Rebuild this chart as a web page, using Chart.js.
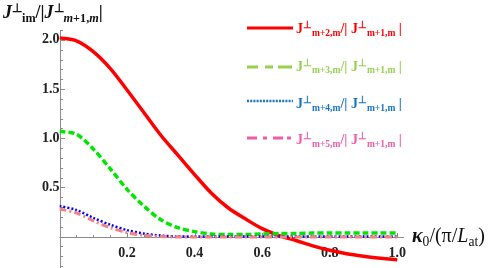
<!DOCTYPE html>
<html><head><meta charset="utf-8">
<script src="https://cdn.jsdelivr.net/npm/chart.js@4"></script>
<style>
html,body{margin:0;padding:0;background:#fff;}
#wrap{position:relative;width:490px;height:268px;overflow:hidden;}
#c{position:absolute;left:0;top:0;}
.t{position:absolute;font-family:'Liberation Serif','Times New Roman',serif;font-weight:bold;white-space:nowrap;line-height:1;}
.sp{font-size:68%;position:relative;top:-0.5em;}
.sb{font-size:68%;position:relative;top:0.3em;}
.sw{position:absolute;}
</style></head><body>
<div id="wrap">
<canvas id="c" width="490" height="268"></canvas>
<div class="t" id="ytitle" style="left:3px;top:3px;font-size:18px;color:#111;"><i>J</i><span class="sp">⊥</span><span class="sb">im</span>/|<i>J</i><span class="sp">⊥</span><span class="sb"><i>m</i>+1,<i>m</i></span>|</div>
<div class="t" id="xtitle" style="left:412px;top:225px;font-size:20px;color:#111;font-weight:normal;"><b><i>κ</i></b><span class="sb">0</span>/(π/<i>L</i><span class="sb">at</span>)</div>
<div id="legend"></div>
</div>
<script>
// ---- data ----
const kappa = [0,0.05,0.1,0.15,0.2,0.25,0.3,0.35,0.4,0.45,0.5,0.55,0.6,0.65,0.7,0.75,0.8,0.85,0.9,0.95,1.0];
const ratioM2 = [2.02,1.99,1.88,1.71,1.49,1.26,1.03,0.83,0.63,0.44,0.29,0.18,0.08,0.01,-0.04,-0.095,-0.14,-0.175,-0.2,-0.22,-0.237];
const ratioM3 = [1.07,1.04,0.89,0.69,0.48,0.31,0.17,0.09,0.05,0.025,0.02,0.02,0.025,0.03,0.03,0.035,0.035,0.035,0.035,0.035,0.035];
const ratioM4 = [0.31,0.27,0.19,0.12,0.065,0.03,0.01,0.0,0,0,0,0,0,0,0,0,0,0,0,0,0];
const ratioM5 = [0.28,0.24,0.16,0.09,0.04,0.012,0.0,-0.005,-0.005,-0.005,-0.005,-0.005,-0.005,-0.005,-0.005,-0.005,-0.005,-0.005,-0.005,-0.005,-0.005];
const yTickValues = [0.5,1.0,1.5,2.0];
const xTickValues = [0.2,0.4,0.6,0.8,1.0];
const legendSubs = ['m+2,m','m+3,m','m+4,m','m+5,m'];

// ---- styles ----
const lineColors = ['#ff0000','#00e600','#0000ff','#f28282'];
const legendColors = ['#ff0000','#96d04e','#1a74c6','#f05aa8'];
const dashes = [[],[6,3],[2,2],[7,3,2,3]];
const widths = [3.5,3.5,2.5,3];
const series = [ratioM2, ratioM3, ratioM4, ratioM5];

// legend (HTML text + svg swatches)
const legendRowY = [27.5, 66.5, 101, 137.5];
const legendTextTop = [22, 59.5, 97, 133];
const legend = document.getElementById('legend');
legendSubs.forEach((s,i)=>{
  const svg = document.createElementNS('http://www.w3.org/2000/svg','svg');
  svg.setAttribute('class','sw'); svg.setAttribute('width','48'); svg.setAttribute('height','8');
  svg.style.left='246px'; svg.style.top=(legendRowY[i]-4)+'px';
  const ln = document.createElementNS('http://www.w3.org/2000/svg','line');
  ln.setAttribute('x1','1'); ln.setAttribute('x2','47'); ln.setAttribute('y1','4'); ln.setAttribute('y2','4');
  ln.setAttribute('stroke',legendColors[i]); ln.setAttribute('stroke-width', i===2?'2.5':'3');
  const ld = [[],[11,7,8,5,14],[2,1.2],[10,6,4,6,10,4,4]][i];
  if(ld.length) ln.setAttribute('stroke-dasharray', ld.join(' '));
  svg.appendChild(ln); legend.appendChild(svg);
  const d = document.createElement('div');
  d.className='t'; d.style.left='296px'; d.style.top=legendTextTop[i]+'px';
  d.style.fontSize='14px'; d.style.color=legendColors[i];
  d.innerHTML = 'J<span class="sp">⊥</span><span class="sb">'+s+'</span>/| J<span class="sp">⊥</span><span class="sb">m+1,m</span> |';
  legend.appendChild(d);
});

const axesPlugin = {
  id:'mathAxes',
  beforeDatasetsDraw(chart){
    const {ctx, scales:{x,y}} = chart;
    const x0 = Math.round(x.getPixelForValue(0))+0.5, y0 = Math.round(y.getPixelForValue(0))+0.5;
    ctx.save(); ctx.strokeStyle='#8c8c8c'; ctx.lineWidth=1;
    ctx.beginPath();
    ctx.moveTo(x0, y.top); ctx.lineTo(x0, y.bottom);
    ctx.moveTo(x.left, y0); ctx.lineTo(x.right, y0);
    for(let i=-3;i<=21;i++){ if(i===0) continue;
      const py = Math.round(y.getPixelForValue(i/10))+0.5; const len = (i%5===0)?4.5:2.5;
      ctx.moveTo(x0,py); ctx.lineTo(x0+len,py); }
    for(let i=1;i<=20;i++){
      const px = Math.round(x.getPixelForValue(i/20))+0.5; const len = (i%4===0)?4.5:2.5;
      ctx.moveTo(px,y0); ctx.lineTo(px,y0-len); }
    ctx.stroke(); ctx.restore();
  }
};

function zeroFit(s, dim){ s[dim]=0; s.paddingLeft=0; s.paddingRight=0; s.paddingTop=0; s.paddingBottom=0; }
const tickFont = {family:"'Liberation Serif','Times New Roman',serif", size:14, weight:'bold'};
new Chart(document.getElementById('c'), {
  type:'line',
  data:{
    datasets: series.map((s,i)=>({
      data: kappa.map((k,j)=>({x:k,y:s[j]})),
      borderColor: lineColors[i], borderWidth: widths[i], borderDash: dashes[i],
      pointRadius:0, fill:false, tension:0.3, order: 4-i
    }))
  },
  plugins:[axesPlugin],
  options:{
    responsive:false, animation:false, devicePixelRatio:1,
    layout:{padding:{left:59.5,right:86,top:30,bottom:0}},
    plugins:{legend:{display:false}, tooltip:{enabled:false}},
    scales:{
      x:{type:'linear', min:0, max:1.02, position:{y:0},
         afterFit(s){zeroFit(s,'height');},
         afterBuildTicks(s){s.ticks = xTickValues.map(v=>({value:v}));},
         grid:{display:false, drawTicks:false}, border:{display:false},
         ticks:{font:tickFont, color:'#222', padding:8, maxRotation:0, autoSkip:false, callback:v=>Number(v).toFixed(1)}},
      y:{type:'linear', min:-0.32, max:2.1, position:{x:0},
         afterFit(s){zeroFit(s,'width');},
         afterBuildTicks(s){s.ticks = yTickValues.map(v=>({value:v}));},
         grid:{display:false, drawTicks:false}, border:{display:false},
         ticks:{font:tickFont, color:'#222', padding:3, autoSkip:false, callback:v=>Number(v).toFixed(1)}}
    }
  }
});
</script>
</body></html>
